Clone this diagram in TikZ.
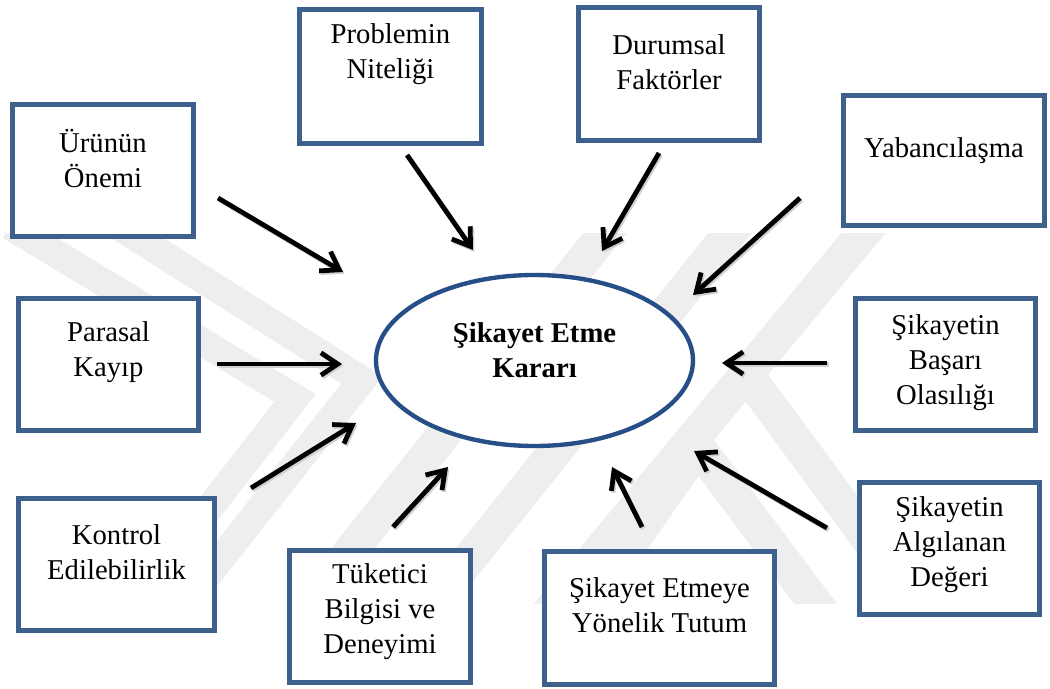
\documentclass[tikz,border=0pt]{standalone}
\usepackage{fontspec}
\setmainfont{Liberation Serif}
\usetikzlibrary{arrows.meta,shapes.geometric}

\definecolor{boxblue}{RGB}{62,96,140}
\definecolor{ellblue}{RGB}{38,78,135}
\definecolor{wm}{RGB}{238,238,238}

\tikzset{
  box/.style={draw=boxblue, line width=3.5pt, fill=white, inner sep=0pt},
  lbl/.style={align=center, font=\fontsize{20.4}{24.9}\selectfont, inner sep=0pt},
  arr/.style={line width=3.4pt, -{Straight Barb[length=4.2mm, width=5.6mm]}},
  arrshadow/.style={line width=3.4pt, draw=black!18, -{Straight Barb[length=4.2mm, width=5.6mm]}},
  wmband/.style={draw=wm, line width=0.85cm, line join=miter},
}

% factor box: name, centre x, centre y, width, height, text lift, text
\newcommand\factorbox[7]{%
  \node[box, minimum width=#4*0.025cm, minimum height=#5*0.025cm] (#1) at (#2,#3) {};
  \node[lbl] (#1t) at ([yshift=#6*0.025cm]#1.center) {#7};
}
% influence arrow between two named points, with a soft shadow
\newcommand\influence[2]{%
  \draw[arrshadow] ([shift={(1.5,1.8)}]#1) -- ([shift={(1.5,1.8)}]#2);
  \draw[arr] (#1) -- (#2);
}

\begin{document}
\begin{tikzpicture}[x=0.025cm, y=-0.025cm]
  \useasboundingbox (0,0) rectangle (1050,689);
  \fill[white] (0,0) rectangle (1050,689);

  % faint background emblem
  \begin{scope}
    \clip (0,233) rectangle (1050,603);
    \draw[wmband, line width=0.7cm] (10,226) -- (295,398) -- (120,623);
    \draw[wmband, line width=0.7cm] (115,224) -- (362,380) -- (170,623);
    \draw[wmband] (621,213) -- (293,623);
    \draw[wmband] (746,213) -- (418,623);
    \draw[wmband] (880,213) -- (540,623);
    \draw[wmband] (745,372) -- (930,623);
    \draw[wmband] (575,623) -- (698,447) -- (830,623);
  \end{scope}

  % central decision
  \node[draw=ellblue, line width=3.1pt, ellipse, fill=white,
        minimum width=317*0.025cm, minimum height=171*0.025cm] (dec) at (534.5,360.5) {};
  \node[lbl, font=\fontsize{20.4}{24.9}\selectfont\bfseries] (dect)
        at ([yshift=10*0.025cm]dec.center) {Şikayet Etme\\Kararı};

  % factors
  \factorbox{urun}{103}{170.5}{181}{132}{12}{Ürünün\\Önemi}
  \factorbox{prob}{390.5}{76.5}{182}{134}{22}{Problemin\\Niteliği}
  \factorbox{durum}{669}{74}{181}{133}{11.5}{Durumsal\\Faktörler}
  \factorbox{yaban}{944}{160.5}{201}{130}{10}{Yabancılaşma}
  \factorbox{basari}{945.5}{364.5}{180}{132}{2}{Şikayetin\\Başarı\\Olasılığı}
  \factorbox{paras}{108.5}{364.5}{180}{132}{12}{Parasal\\Kayıp}
  \factorbox{kontrol}{116.5}{564.5}{196}{132}{12}{Kontrol\\Edilebilirlik}
  \factorbox{tuket}{380}{616.5}{181}{132}{4.5}{Tüketici\\Bilgisi ve\\Deneyimi}
  \factorbox{tutum}{659.5}{618}{230}{133}{12.5}{Şikayet Etmeye\\Yönelik Tutum}
  \factorbox{algi}{949.5}{548.5}{180}{132}{3.5}{Şikayetin\\Algılanan\\Değeri}

  % arrow end points
  \coordinate (s1) at (218,198);  \coordinate (t1) at (343,272);
  \coordinate (s2) at (407,155);  \coordinate (t2) at (473,250);
  \coordinate (s3) at (659,153);  \coordinate (t3) at (602,251);
  \coordinate (s4) at (800,198);  \coordinate (t4) at (693,295);
  \coordinate (s5) at (827,363);  \coordinate (t5) at (722,363);
  \coordinate (s6) at (827,528);  \coordinate (t6) at (694,451);
  \coordinate (s7) at (642,527);  \coordinate (t7) at (612,467);
  \coordinate (s8) at (393,527);  \coordinate (t8) at (448,467);
  \coordinate (s9) at (251,488);  \coordinate (t9) at (356,423);
  \coordinate (s10) at (217,364); \coordinate (t10) at (342,364);

  \influence{s1}{t1}
  \influence{s2}{t2}
  \influence{s3}{t3}
  \influence{s4}{t4}
  \influence{s5}{t5}
  \influence{s6}{t6}
  \influence{s7}{t7}
  \influence{s8}{t8}
  \influence{s9}{t9}
  \influence{s10}{t10}
\end{tikzpicture}
\end{document}
